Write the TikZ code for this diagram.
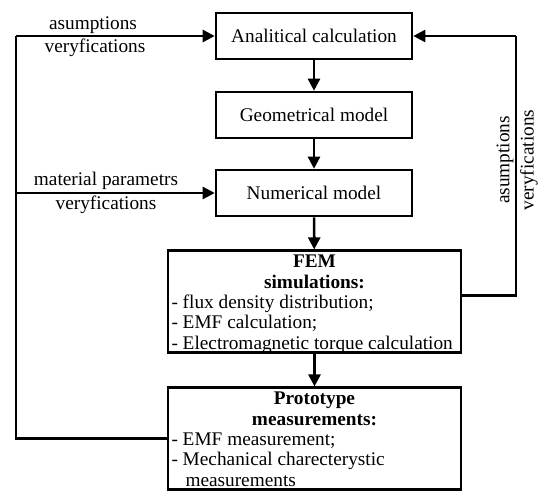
\documentclass[tikz,border=0pt]{standalone}
\usepackage{fontspec}
\setmainfont{Liberation Serif}
\usetikzlibrary{arrows.meta}
\newcommand{\downtab}[1]{\raisebox{-3pt}[\height][\depth]{#1}}
\begin{document}
\begin{tikzpicture}[x=1pt,y=-1pt,
  txt/.style={font=\fontsize{19.3}{20.3}\selectfont},
  box/.style={txt, draw, line width=2.6pt, minimum width=196pt, minimum height=46pt, inner sep=0pt},
  bigbox/.style={txt, draw, line width=2.6pt, minimum width=293pt, minimum height=101pt, inner sep=0pt},
  arr/.style={line width=2.6pt, -{Triangle[length=12pt,width=12pt]}},
  conn/.style={line width=2.6pt, line join=miter},
  lab/.style={txt, inner sep=0pt}]
\useasboundingbox (0,0) rectangle (550,503);
\node[box] (ana) at (314,36) {Analitical calculation};
\node[box] (geo) at (314,115) {Geometrical model};
\node[box] (num) at (314,193) {Numerical model};
\node[bigbox] (fem) at (314.5,301.5) {\downtab{\begin{tabular}{@{}p{286pt}@{}}
\multicolumn{1}{@{}c@{}}{\bfseries FEM}\\
\multicolumn{1}{@{}c@{}}{\bfseries simulations:}\\
- flux density distribution;\\
- EMF calculation;\\
- Electromagnetic torque calculation
\end{tabular}}};
\node[bigbox] (pro) at (314.5,438.5) {\downtab{\begin{tabular}{@{}p{286pt}@{}}
\multicolumn{1}{@{}c@{}}{\bfseries Prototype}\\
\multicolumn{1}{@{}c@{}}{\bfseries measurements:}\\
- EMF measurement;\\
- Mechanical charecterystic\\
\hspace*{14pt}measurements
\end{tabular}}};
\coordinate (L) at (16,36);
\coordinate (R) at (516,36);
\draw[arr] (ana) -- (geo);
\draw[arr] (geo) -- (num);
\draw[arr] (num) -- (fem);
\draw[arr] (fem) -- (pro);
\draw[conn] (pro.west) -| (L);
\draw[arr] (L) -- (ana.west);
\draw[arr] (L |- num) -- (num.west);
\draw[conn] ([yshift=6pt]fem.east) -| (R);
\draw[arr] (R) -- (ana.east);
\node[lab] (l1) at (93,25) {asumptions};
\node[lab] (l2) at (95,48) {veryfications};
\node[lab] (l3) at (106,181) {material parametrs};
\node[lab] (l4) at (106,205) {veryfications};
\node[lab, rotate=90] (r1) at (505,160) {asumptions};
\node[lab, rotate=90] (r2) at (529,160) {veryfications};
\end{tikzpicture}
\end{document}
